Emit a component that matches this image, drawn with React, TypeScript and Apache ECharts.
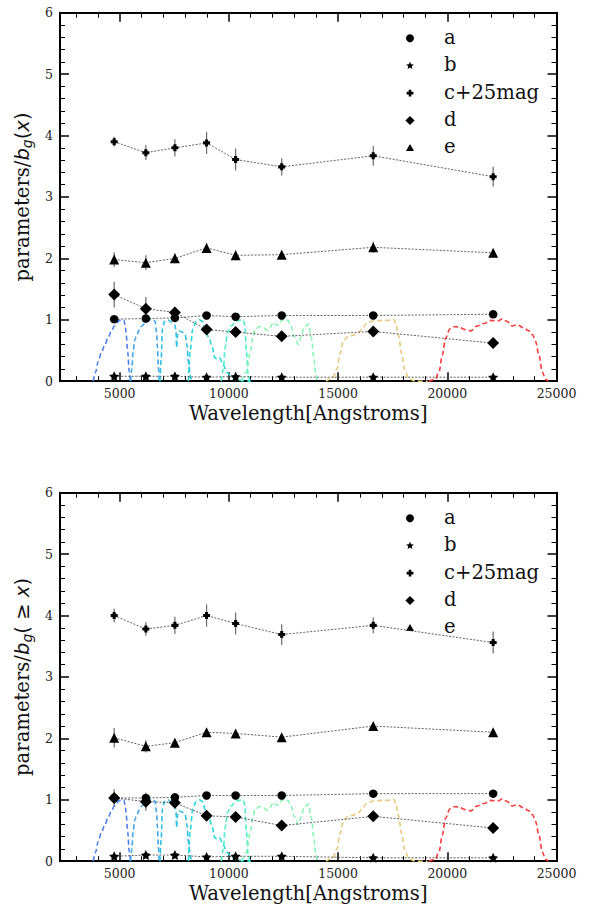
import React, { useEffect, useRef } from 'react';
import * as echarts from 'echarts';

// ---------- data ----------
const WAVELENGTHS = [4750, 6200, 7530, 8980, 10310, 12420, 16610, 22100];

const TOP_A = [1.01, 1.02, 1.03, 1.07, 1.05, 1.07, 1.07, 1.09];
const TOP_A_ERR = [0.03, 0.03, 0.03, 0.03, 0.03, 0.03, 0.03, 0.03];
const TOP_B = [0.08, 0.08, 0.08, 0.065, 0.075, 0.065, 0.065, 0.065];
const TOP_B_ERR = [0.02, 0.02, 0.02, 0.02, 0.02, 0.02, 0.02, 0.02];
const TOP_C = [3.9, 3.72, 3.8, 3.88, 3.61, 3.49, 3.67, 3.33];
const TOP_C_ERR = [0.08, 0.12, 0.14, 0.18, 0.18, 0.14, 0.16, 0.16];
const TOP_D = [1.41, 1.18, 1.12, 0.84, 0.8, 0.73, 0.81, 0.62];
const TOP_D_ERR = [0.21, 0.19, 0.09, 0.04, 0.04, 0.04, 0.04, 0.04];
const TOP_E = [1.98, 1.93, 2.0, 2.17, 2.05, 2.06, 2.18, 2.09];
const TOP_E_ERR = [0.12, 0.12, 0.08, 0.08, 0.08, 0.07, 0.09, 0.06];

const BOT_A = [1.03, 1.03, 1.04, 1.07, 1.07, 1.07, 1.1, 1.1];
const BOT_A_ERR = [0.03, 0.03, 0.03, 0.03, 0.03, 0.03, 0.03, 0.03];
const BOT_B = [0.08, 0.1, 0.1, 0.07, 0.08, 0.08, 0.055, 0.055];
const BOT_B_ERR = [0.02, 0.02, 0.02, 0.02, 0.02, 0.02, 0.02, 0.02];
const BOT_C = [4.0, 3.78, 3.84, 4.0, 3.87, 3.69, 3.84, 3.56];
const BOT_C_ERR = [0.11, 0.11, 0.14, 0.18, 0.18, 0.17, 0.13, 0.18];
const BOT_D = [1.03, 0.97, 0.95, 0.74, 0.72, 0.58, 0.73, 0.54];
const BOT_D_ERR = [0.14, 0.15, 0.06, 0.04, 0.04, 0.04, 0.04, 0.04];
const BOT_E = [2.01, 1.87, 1.93, 2.1, 2.08, 2.02, 2.2, 2.1];
const BOT_E_ERR = [0.16, 0.1, 0.06, 0.05, 0.05, 0.04, 0.05, 0.04];

const SERIES_NAMES = ['a', 'b', 'c+25mag', 'd', 'e'];

// filter transmission curves [wavelength, normalised transmission]
const FILTER_G = [[3790, 0], [3900, 0.15], [4020, 0.32], [4170, 0.47], [4330, 0.6], [4480, 0.72], [4630, 0.82], [4760, 0.9], [4860, 0.95], [5000, 0.99], [5100, 1.0], [5200, 0.99], [5250, 0.92], [5290, 0.8], [5370, 0.48], [5440, 0.15], [5500, 0]];
const FILTER_R = [[5500, 0], [5560, 0.2], [5620, 0.5], [5700, 0.68], [5780, 0.75], [5930, 0.86], [6010, 0.9], [6240, 0.97], [6460, 1.01], [6620, 0.98], [6690, 0.8], [6730, 0.55], [6770, 0.25], [6810, 0]];
const FILTER_I = [[6850, 0], [6900, 0.35], [6960, 0.85], [7050, 0.97], [7200, 1.0], [7380, 0.96], [7530, 0.92], [7580, 0.8], [7610, 0.55], [7650, 0.75], [7720, 0.82], [7850, 0.8], [8000, 0.76], [8080, 0.6], [8150, 0.3], [8250, 0.05], [8350, 0]];
const FILTER_Z = [[8150, 0], [8230, 0.5], [8350, 0.85], [8500, 0.97], [8650, 1.0], [8800, 0.97], [8950, 0.8], [9100, 0.7], [9220, 0.58], [9360, 0.38], [9450, 0.36], [9580, 0.38], [9750, 0.26], [9900, 0.15], [10050, 0.1], [10300, 0.03], [10600, 0.01], [11000, 0]];
const FILTER_Y = [[9650, 0], [9750, 0.2], [9830, 0.55], [9950, 0.8], [10100, 0.9], [10250, 0.94], [10430, 0.99], [10650, 1.0], [10730, 0.92], [10800, 0.5], [10880, 0.12], [10960, 0]];
const FILTER_J = [[10600, 0], [10800, 0.15], [10970, 0.45], [11100, 0.7], [11200, 0.85], [11420, 0.89], [11600, 0.87], [11730, 0.83], [11900, 0.88], [12030, 0.96], [12190, 0.91], [12350, 0.97], [12550, 1.02], [12700, 0.99], [12850, 0.9], [13000, 0.72], [13180, 0.6], [13300, 0.72], [13450, 0.88], [13640, 0.93], [13780, 0.7], [13900, 0.35], [13980, 0.1], [14050, 0]];
const FILTER_H = [[14450, 0], [14750, 0.05], [14950, 0.2], [15090, 0.45], [15250, 0.66], [15470, 0.73], [15700, 0.75], [15900, 0.78], [16080, 0.84], [16300, 0.94], [16610, 0.98], [17000, 0.99], [17300, 0.99], [17530, 1.01], [17650, 0.94], [17760, 0.75], [17910, 0.45], [18060, 0.18], [18220, 0.05], [18450, 0.01], [18800, 0], [19100, 0]];
const FILTER_K = [[19150, 0], [19450, 0.03], [19620, 0.15], [19770, 0.42], [19920, 0.7], [20120, 0.85], [20380, 0.89], [20600, 0.87], [20800, 0.84], [21070, 0.82], [21370, 0.9], [21680, 0.94], [21980, 0.99], [22290, 0.98], [22520, 1.01], [22750, 0.97], [22970, 0.9], [23200, 0.92], [23500, 0.87], [23740, 0.82], [23900, 0.76], [24040, 0.65], [24200, 0.42], [24350, 0.15], [24500, 0.03], [24620, 0]];

const FILTERS = [FILTER_G, FILTER_R, FILTER_I, FILTER_Z, FILTER_Y, FILTER_J, FILTER_H, FILTER_K];
const FILTER_COLORS = ['#4f80ef', '#3ea6ea', '#2ec0e4', '#28d7dc', '#4aecc9', '#88f4b6', '#e9c97d', '#ff3b3b'];

const X_MIN = 2270;
const X_MAX = 25000;
const X_MAJOR = [5000, 10000, 15000, 20000, 25000];
const X_MINOR = [3000, 4000, 6000, 7000, 8000, 9000, 11000, 12000, 13000, 14000, 16000, 17000, 18000, 19000, 21000, 22000, 23000, 24000];
const Y_MIN = 0;
const Y_MAX = 6;
const Y_INTERVAL = 1;

// ---------- styling ----------
const SERIF = '"DejaVu Serif", serif';
const SANS = '"DejaVu Sans", sans-serif';
const STAR = 'path://M0,-10L2.94,-4.05L9.51,-3.09L4.76,1.55L5.88,8.09L0,5L-5.88,8.09L-4.76,1.55L-9.51,-3.09L-2.94,-4.05Z';
const PLUS = 'path://M-2.2,-5H2.2V-2.2H5V2.2H2.2V5H-2.2V2.2H-5V-2.2H-2.2Z';
const SYMBOLS = ['circle', STAR, PLUS, 'diamond', 'triangle'];
const SYMBOL_SIZES = [8.5, 10, 7, 12, 10];

const GRID_LEFT = 60;
const GRID_RIGHT = 37.5;
const GRID_TOPS = [12.7, 492.7];
const GRID_HEIGHT = 368.5;
const TITLE_SIZE = 19.6;

function starPoints(cx: number, cy: number, R: number, r: number) {
  const pts: number[][] = [];
  for (let k = 0; k < 10; k++) {
    const ang = -Math.PI / 2 + (k * Math.PI) / 5;
    const rad = k % 2 === 0 ? R : r;
    pts.push([cx + rad * Math.cos(ang), cy + rad * Math.sin(ang)]);
  }
  return pts;
}

function legendGraphics(top: number) {
  const items: any[] = [];
  const mx = 410;
  const tx = 444;
  SERIES_NAMES.forEach((name, i) => {
    const cy = top + 25.6 + i * 27.4;
    const style = { fill: '#000' };
    if (i === 0) items.push({ type: 'circle', shape: { cx: mx, cy, r: 4 }, style });
    if (i === 1) items.push({ type: 'polygon', shape: { points: starPoints(mx, cy, 4, 1.9) }, style });
    if (i === 2)
      items.push({
        type: 'polygon',
        shape: { points: [[mx - 1.3, cy - 3.4], [mx + 1.3, cy - 3.4], [mx + 1.3, cy - 1.3], [mx + 3.4, cy - 1.3], [mx + 3.4, cy + 1.3], [mx + 1.3, cy + 1.3], [mx + 1.3, cy + 3.4], [mx - 1.3, cy + 3.4], [mx - 1.3, cy + 1.3], [mx - 3.4, cy + 1.3], [mx - 3.4, cy - 1.3], [mx - 1.3, cy - 1.3]] },
        style,
      });
    if (i === 3) items.push({ type: 'polygon', shape: { points: [[mx, cy - 4.6], [mx + 4.6, cy], [mx, cy + 4.6], [mx - 4.6, cy]] }, style });
    if (i === 4) items.push({ type: 'polygon', shape: { points: [[mx, cy - 4], [mx + 4, cy + 3.2], [mx - 4, cy + 3.2]] }, style });
    items.push({
      type: 'text',
      x: tx,
      y: cy - 1,
      style: { text: name, fill: '#111', font: `${TITLE_SIZE}px ${SERIF}`, textVerticalAlign: 'middle', textAlign: 'left' },
    });
  });
  return items;
}

const plainNumber = (v: number) => String(v);

function buildPanel(p: number, values: number[][], errors: number[][], yName: string) {
  const xs = p * 4;
  const ys = p * 2;
  const xAxes: any[] = [
    {
      type: 'value', gridIndex: p, min: X_MIN, max: X_MAX, position: 'bottom', splitLine: { show: false },
      axisLine: { show: true, onZero: false, lineStyle: { color: '#000', width: 2 } },
      axisTick: { show: true, inside: true, length: 9, customValues: X_MAJOR, lineStyle: { color: '#000', width: 1.5 } },
      axisLabel: { show: true, customValues: X_MAJOR, formatter: plainNumber, margin: 6, fontFamily: SERIF, fontSize: 12.5, color: '#222' },
      name: 'Wavelength[Angstroms]', nameLocation: 'middle', nameGap: 22,
      nameTextStyle: { fontFamily: SERIF, fontSize: TITLE_SIZE, color: '#111' },
    },
    {
      type: 'value', gridIndex: p, min: X_MIN, max: X_MAX, position: 'bottom', splitLine: { show: false },
      axisLine: { show: false, onZero: false },
      axisTick: { show: true, inside: true, length: 5, customValues: X_MINOR, lineStyle: { color: '#000', width: 1 } },
      axisLabel: { show: false },
    },
    {
      type: 'value', gridIndex: p, min: X_MIN, max: X_MAX, position: 'top', splitLine: { show: false },
      axisLine: { show: true, onZero: false, lineStyle: { color: '#000', width: 2 } },
      axisTick: { show: true, inside: true, length: 9, customValues: X_MAJOR, lineStyle: { color: '#000', width: 1.5 } },
      axisLabel: { show: false },
    },
    {
      type: 'value', gridIndex: p, min: X_MIN, max: X_MAX, position: 'top', splitLine: { show: false },
      axisLine: { show: false, onZero: false },
      axisTick: { show: true, inside: true, length: 5, customValues: X_MINOR, lineStyle: { color: '#000', width: 1 } },
      axisLabel: { show: false },
    },
  ];
  const yCommon = {
    type: 'value', gridIndex: p, min: Y_MIN, max: Y_MAX, interval: Y_INTERVAL, splitLine: { show: false },
    axisLine: { show: true, onZero: false, lineStyle: { color: '#000', width: 2 } },
    axisTick: { show: true, inside: true, length: 9, lineStyle: { color: '#000', width: 1.5 } },
    minorTick: { show: true, splitNumber: 5, length: 5, lineStyle: { color: '#000', width: 1 } },
    minorSplitLine: { show: false },
  };
  const yAxes: any[] = [
    {
      ...yCommon, position: 'left',
      axisLabel: { show: true, margin: 7, formatter: plainNumber, fontFamily: SERIF, fontSize: 12.5, color: '#222' },
      name: yName, nameLocation: 'middle', nameRotate: 90, nameGap: 22,
      nameTextStyle: {
        color: '#111',
        rich: {
          n: { fontFamily: SERIF, fontSize: TITLE_SIZE, color: '#111' },
          m: { fontFamily: SANS, fontSize: TITLE_SIZE, color: '#111' },
          i: { fontFamily: SANS, fontStyle: 'italic', fontSize: TITLE_SIZE, color: '#111' },
          s: { fontFamily: SANS, fontStyle: 'italic', fontSize: 14, color: '#111', padding: [10, 0, 0, 0] },
        },
      },
    },
    { ...yCommon, position: 'right', axisLabel: { show: false } },
  ];

  const series: any[] = [];
  FILTERS.forEach((curve, k) => {
    series.push({
      type: 'line', xAxisIndex: xs, yAxisIndex: ys, data: curve, showSymbol: false, symbol: 'none',
      smooth: 0.35, smoothMonotone: 'x', silent: true, z: 2,
      lineStyle: { color: FILTER_COLORS[k], width: 1.6, type: [5, 3] },
    });
  });
  values.forEach((vals, s) => {
    series.push({
      type: 'custom', xAxisIndex: xs, yAxisIndex: ys, z: 4, silent: true,
      data: WAVELENGTHS.map((w, j) => [w, vals[j] - errors[s][j], vals[j] + errors[s][j]]),
      encode: { x: 0, y: [1, 2] },
      renderItem: (params: any, api: any) => {
        const a = api.coord([api.value(0), api.value(1)]);
        const b = api.coord([api.value(0), api.value(2)]);
        return { type: 'line', shape: { x1: a[0], y1: a[1], x2: b[0], y2: b[1] }, style: { stroke: '#6a6a6a', lineWidth: 1.2 } };
      },
    });
  });
  values.forEach((vals, s) => {
    series.push({
      type: 'line', name: SERIES_NAMES[s], xAxisIndex: xs, yAxisIndex: ys, z: 5,
      data: WAVELENGTHS.map((w, j) => [w, vals[j]]),
      symbol: SYMBOLS[s], symbolSize: SYMBOL_SIZES[s], showSymbol: true,
      itemStyle: { color: '#000' },
      lineStyle: { color: '#3a3a3a', width: 0.8, type: [2, 1.5] },
    });
  });
  return { xAxes, yAxes, series };
}

export default function App() {
  const ref = useRef<HTMLDivElement>(null);
  useEffect(() => {
    if (!ref.current) return;
    const chart = echarts.init(ref.current, undefined, { renderer: 'svg' });
    const top = buildPanel(0, [TOP_A, TOP_B, TOP_C, TOP_D, TOP_E], [TOP_A_ERR, TOP_B_ERR, TOP_C_ERR, TOP_D_ERR, TOP_E_ERR],
      '{n|parameters/}{i|b}{s|g}{m|(}{i|x}{m|)}');
    const bot = buildPanel(1, [BOT_A, BOT_B, BOT_C, BOT_D, BOT_E], [BOT_A_ERR, BOT_B_ERR, BOT_C_ERR, BOT_D_ERR, BOT_E_ERR],
      '{n|parameters/}{i|b}{s|g}{m|( ≥ }{i|x}{m|)}');
    chart.setOption({
      animation: false,
      backgroundColor: '#fff',
      grid: GRID_TOPS.map((t) => ({ left: GRID_LEFT, right: GRID_RIGHT, top: t, height: GRID_HEIGHT, containLabel: false })),
      xAxis: [...top.xAxes, ...bot.xAxes],
      yAxis: [...top.yAxes, ...bot.yAxes],
      series: [...top.series, ...bot.series],
      graphic: [...legendGraphics(GRID_TOPS[0]), ...legendGraphics(GRID_TOPS[1])],
    });
    return () => chart.dispose();
  }, []);
  return <div ref={ref} style={{ position: 'absolute', left: 0, top: 0, width: 594, height: 907 }} />;
}
